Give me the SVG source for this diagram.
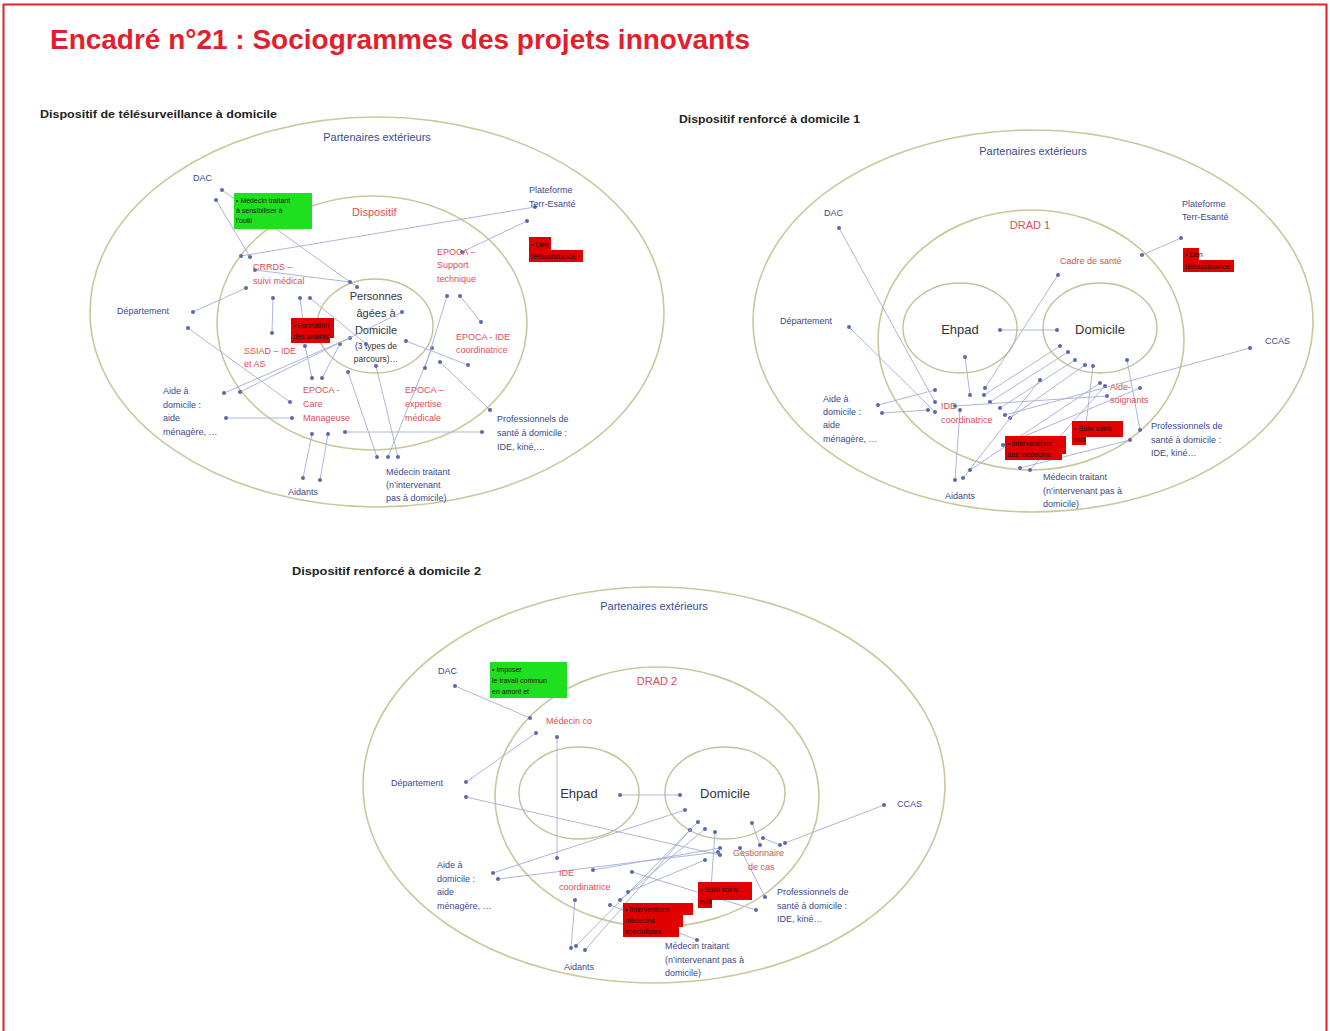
<svg xmlns="http://www.w3.org/2000/svg" width="1330" height="1031" viewBox="0 0 1330 1031">
<defs>
<marker id="dot" viewBox="0 0 6 6" refX="3" refY="3" markerWidth="4" markerHeight="4" markerUnits="userSpaceOnUse"><circle cx="3" cy="3" r="3" fill="#5a6aa8"/></marker>
<style>
.ring{fill:none;stroke:#c9c89c;stroke-width:1.6}
.ringi{fill:none;stroke:#c2c296;stroke-width:1.4}
.c line{stroke:#a3aed6;stroke-width:0.9;marker-start:url(#dot);marker-end:url(#dot)}
.t{font-family:"Liberation Sans",Arial,sans-serif;font-size:9px;fill:#3b4a8c}
.r{font-family:"Liberation Sans",Arial,sans-serif;font-size:9px;fill:#dc5055}
.h{font-family:"Liberation Sans",Arial,sans-serif;font-size:11px;font-weight:bold;fill:#222}
.p{font-family:"Liberation Sans",Arial,sans-serif;font-size:11px;fill:#3b4a8c;text-anchor:middle}
.big{font-family:"Liberation Sans",Arial,sans-serif;font-size:13px;fill:#333;text-anchor:middle}
.med{font-family:"Liberation Sans",Arial,sans-serif;font-size:11px;fill:#333;text-anchor:middle}
.sm{font-family:"Liberation Sans",Arial,sans-serif;font-size:8.5px;fill:#333;text-anchor:middle}
.lbl{font-family:"Liberation Sans",Arial,sans-serif;font-size:11px;fill:#dc5055}
.rb{fill:#e00000}
.gb{fill:#1fe01f}
.k{font-family:"Liberation Sans",Arial,sans-serif;font-size:7px;fill:#111}
</style>
</defs>
<rect x="0" y="0" width="1330" height="1031" fill="#fff"/>
<rect x="3.5" y="4.5" width="1323" height="1040" fill="none" stroke="#e31e2d" stroke-width="2"/>
<text x="50" y="49" font-family="Liberation Sans,Arial,sans-serif" font-size="28" font-weight="bold" fill="#e31e2d" textLength="700" lengthAdjust="spacingAndGlyphs">Encadré n°21 : Sociogrammes des projets innovants</text>

<!-- ===== Diagram 1 ===== -->
<g id="d1-title"><text class="h" x="40" y="118" textLength="237" lengthAdjust="spacingAndGlyphs">Dispositif de télésurveillance à domicile</text></g>
<g id="d1-partenaires"><ellipse class="ring" cx="377" cy="312" rx="287" ry="195"/><text class="p" x="377" y="141">Partenaires extérieurs</text></g>
<g id="d1-dispositif"><ellipse class="ring" cx="372" cy="323" rx="155" ry="127"/><text class="lbl" x="352" y="216">Dispositif</text></g>
<g id="d1-personnes"><ellipse class="ringi" cx="375" cy="326" rx="58" ry="47"/>
<text class="med" x="376" y="300">Personnes</text><text class="med" x="376" y="317">âgées à</text><text class="med" x="376" y="334">Domicile</text>
<text class="sm" x="376" y="349">(3 types de</text><text class="sm" x="376" y="362">parcours)…</text></g>

<g id="d1-connectors" class="c">
<line x1="216" y1="200" x2="250" y2="257"/>
<line x1="222" y1="190" x2="357" y2="287"/>
<line x1="241" y1="256" x2="535" y2="207"/>
<line x1="527" y1="221" x2="462" y2="252"/>
<line x1="193" y1="312" x2="246" y2="288"/>
<line x1="188" y1="328" x2="290" y2="402"/>
<line x1="224" y1="393" x2="350" y2="338"/>
<line x1="226" y1="418" x2="292" y2="418"/>
<line x1="273" y1="298" x2="272" y2="333"/>
<line x1="300" y1="298" x2="305" y2="335"/>
<line x1="310" y1="298" x2="366" y2="344"/>
<line x1="305" y1="346" x2="312" y2="378"/>
<line x1="322" y1="378" x2="340" y2="344"/>
<line x1="345" y1="432" x2="482" y2="432"/>
<line x1="303" y1="478" x2="312" y2="434"/>
<line x1="320" y1="480" x2="328" y2="434"/>
<line x1="377" y1="457" x2="348" y2="372"/>
<line x1="388" y1="457" x2="432" y2="348"/>
<line x1="398" y1="457" x2="376" y2="366"/>
<line x1="447" y1="296" x2="425" y2="368"/>
<line x1="460" y1="296" x2="481" y2="322"/>
<line x1="440" y1="362" x2="490" y2="410"/>
<line x1="406" y1="341" x2="468" y2="365"/>
<line x1="255" y1="270" x2="350" y2="282"/>
<line x1="240" y1="392" x2="402" y2="312"/>
</g>

<g id="d1-green"><rect class="gb" x="234" y="193" width="78" height="36"/><text class="k" x="236" y="203">• Médecin traitant</text><text class="k" x="236" y="213">à sensibiliser à</text><text class="k" x="236" y="223">l’outil</text></g>
<g id="d1-redbox1"><path class="rb" d="M529 237h22v13h32v12h-54z"/><text class="k" x="531" y="247">• Lien</text><text class="k" x="531" y="259">téléassistance</text></g>
<g id="d1-redbox2"><path class="rb" d="M291 318h43v20h-4v5h-39z"/><text class="k" x="293" y="328">• Formation</text><text class="k" x="293" y="339">des aidants</text></g>
<g id="d1-labels">
<text class="t" x="193" y="181">DAC</text>
<text class="t" x="529" y="193">Plateforme</text><text class="t" x="529" y="207">Terr-Esanté</text>
<text class="r" x="253" y="270">CRRDS –</text><text class="r" x="253" y="284">suivi médical</text>
<text class="r" x="437" y="255">EPOCA –</text><text class="r" x="437" y="268">Support</text><text class="r" x="437" y="282">technique</text>
<text class="r" x="456" y="340">EPOCA - IDE</text><text class="r" x="456" y="353">coordinatrice</text>
<text class="r" x="244" y="354">SSIAD – IDE</text><text class="r" x="244" y="367">et AS</text>
<text class="r" x="303" y="393">EPOCA -</text><text class="r" x="303" y="407">Care</text><text class="r" x="303" y="421">Manageuse</text>
<text class="r" x="405" y="393">EPOCA –</text><text class="r" x="405" y="407">expertise</text><text class="r" x="405" y="421">médicale</text>
<text class="t" x="117" y="314">Département</text>
<text class="t" x="163" y="394">Aide à</text><text class="t" x="163" y="408">domicile :</text><text class="t" x="163" y="421">aide</text><text class="t" x="163" y="435">ménagère, …</text>
<text class="t" x="288" y="495">Aidants</text>
<text class="t" x="386" y="475">Médecin traitant</text><text class="t" x="386" y="488">(n’intervenant</text><text class="t" x="386" y="501">pas à domicile)</text>
<text class="t" x="497" y="422">Professionnels de</text><text class="t" x="497" y="436">santé à domicile :</text><text class="t" x="497" y="450">IDE, kiné,…</text>
</g>

<!-- ===== Diagram 2 ===== -->
<g id="d2-title"><text class="h" x="679" y="123" textLength="181" lengthAdjust="spacingAndGlyphs">Dispositif renforcé à domicile 1</text></g>
<g id="d2-partenaires"><ellipse class="ring" cx="1033" cy="321" rx="280" ry="191"/><text class="p" x="1033" y="155">Partenaires extérieurs</text></g>
<g id="d2-drad"><ellipse class="ring" cx="1031" cy="340" rx="153" ry="130"/><text class="lbl" x="1030" y="229" text-anchor="middle">DRAD 1</text></g>
<g id="d2-ehpad"><ellipse class="ringi" cx="960" cy="328" rx="57" ry="45"/><text class="big" x="960" y="334">Ehpad</text></g>
<g id="d2-domicile"><ellipse class="ringi" cx="1100" cy="328" rx="57" ry="45"/><text class="big" x="1100" y="334">Domicile</text></g>

<g id="d2-connectors" class="c">
<line x1="839" y1="228" x2="935" y2="402"/>
<line x1="849" y1="327" x2="935" y2="412"/>
<line x1="1057" y1="330" x2="1000" y2="330"/>
<line x1="1058" y1="275" x2="985" y2="388"/>
<line x1="1142" y1="255" x2="1181" y2="238"/>
<line x1="1250" y1="348" x2="1005" y2="415"/>
<line x1="878" y1="405" x2="935" y2="390"/>
<line x1="882" y1="413" x2="928" y2="410"/>
<line x1="965" y1="357" x2="970" y2="395"/>
<line x1="984" y1="395" x2="1060" y2="346"/>
<line x1="990" y1="402" x2="1068" y2="352"/>
<line x1="1000" y1="408" x2="1075" y2="360"/>
<line x1="1010" y1="418" x2="1085" y2="365"/>
<line x1="955" y1="480" x2="960" y2="410"/>
<line x1="963" y1="478" x2="1040" y2="380"/>
<line x1="970" y1="470" x2="1100" y2="383"/>
<line x1="1093" y1="366" x2="1086" y2="424"/>
<line x1="1127" y1="360" x2="1140" y2="430"/>
<line x1="1130" y1="440" x2="1020" y2="468"/>
<line x1="1030" y1="470" x2="1105" y2="386"/>
<line x1="1107" y1="396" x2="955" y2="406"/>
<line x1="1140" y1="388" x2="1003" y2="445"/>
</g>

<g id="d2-redbox1"><path class="rb" d="M1183 248h16v12h35v12h-51z"/><text class="k" x="1185" y="257">• Lien</text><text class="k" x="1185" y="269">téléassistance</text></g>
<g id="d2-redbox2"><path class="rb" d="M1005 436h61v18h-4v6h-57z"/><text class="k" x="1007" y="446">• Interventions</text><text class="k" x="1007" y="457">des médecins</text></g>
<g id="d2-redbox3"><path class="rb" d="M1072 421h51v16h-37v8h-14z"/><text class="k" x="1074" y="431">• Suivi soins</text><text class="k" x="1074" y="442">nuit</text></g>
<g id="d2-labels">
<text class="t" x="824" y="216">DAC</text>
<text class="t" x="1182" y="207">Plateforme</text><text class="t" x="1182" y="220">Terr-Esanté</text>
<text class="r" x="1060" y="264">Cadre de santé</text>
<text class="t" x="780" y="324">Département</text>
<text class="t" x="1265" y="344">CCAS</text>
<text class="t" x="823" y="402">Aide à</text><text class="t" x="823" y="415">domicile :</text><text class="t" x="823" y="428">aide</text><text class="t" x="823" y="442">ménagère, …</text>
<text class="r" x="941" y="409">IDE</text><text class="r" x="941" y="423">coordinatrice</text>
<text class="r" x="1110" y="390">Aide-</text><text class="r" x="1110" y="403">soignants</text>
<text class="t" x="1151" y="429">Professionnels de</text><text class="t" x="1151" y="443">santé à domicile :</text><text class="t" x="1151" y="456">IDE, kiné…</text>
<text class="t" x="945" y="499">Aidants</text>
<text class="t" x="1043" y="480">Médecin traitant</text><text class="t" x="1043" y="494">(n’intervenant pas à</text><text class="t" x="1043" y="507">domicile)</text>
</g>

<!-- ===== Diagram 3 ===== -->
<g id="d3-title"><text class="h" x="292" y="575" textLength="189" lengthAdjust="spacingAndGlyphs">Dispositif renforcé à domicile 2</text></g>
<g id="d3-partenaires"><ellipse class="ring" cx="654" cy="785" rx="291" ry="198"/><text class="p" x="654" y="610">Partenaires extérieurs</text></g>
<g id="d3-drad"><ellipse class="ring" cx="657" cy="797" rx="162" ry="130"/><text class="lbl" x="657" y="685" text-anchor="middle">DRAD 2</text></g>
<g id="d3-ehpad"><ellipse class="ringi" cx="579" cy="793" rx="60" ry="46"/><text class="big" x="579" y="798">Ehpad</text></g>
<g id="d3-domicile"><ellipse class="ringi" cx="725" cy="793" rx="60" ry="46"/><text class="big" x="725" y="798">Domicile</text></g>

<g id="d3-connectors" class="c">
<line x1="455" y1="686" x2="530" y2="718"/>
<line x1="557" y1="737" x2="557" y2="858"/>
<line x1="536" y1="733" x2="466" y2="782"/>
<line x1="466" y1="797" x2="720" y2="855"/>
<line x1="680" y1="795" x2="620" y2="795"/>
<line x1="884" y1="805" x2="785" y2="843"/>
<line x1="493" y1="873" x2="685" y2="810"/>
<line x1="498" y1="879" x2="718" y2="852"/>
<line x1="593" y1="870" x2="720" y2="848"/>
<line x1="571" y1="948" x2="575" y2="900"/>
<line x1="585" y1="950" x2="690" y2="830"/>
<line x1="576" y1="946" x2="698" y2="822"/>
<line x1="620" y1="900" x2="705" y2="829"/>
<line x1="715" y1="832" x2="710" y2="902"/>
<line x1="765" y1="897" x2="740" y2="848"/>
<line x1="756" y1="910" x2="632" y2="872"/>
<line x1="752" y1="823" x2="760" y2="845"/>
<line x1="763" y1="838" x2="780" y2="845"/>
<line x1="628" y1="892" x2="705" y2="860"/>
<line x1="697" y1="940" x2="610" y2="905"/>
</g>

<g id="d3-green"><rect class="gb" x="490" y="662" width="77" height="36"/><text class="k" x="492" y="672">• Imposer</text><text class="k" x="492" y="683">le travail commun</text><text class="k" x="492" y="694">en amont et</text></g>
<g id="d3-redbox1"><path class="rb" d="M698 882h54v18h-40v8h-14z"/><text class="k" x="700" y="892">• Suivi soins</text><text class="k" x="700" y="904">nuit</text></g>
<g id="d3-redbox2"><path class="rb" d="M623 903h70v12h-10v12h-4v10h-56z"/><text class="k" x="625" y="912">• Interventions</text><text class="k" x="625" y="923">médecins</text><text class="k" x="625" y="934">spécialistes</text></g>
<g id="d3-labels">
<text class="t" x="438" y="674">DAC</text>
<text class="r" x="546" y="724">Médecin co</text>
<text class="t" x="391" y="786">Département</text>
<text class="t" x="897" y="807">CCAS</text>
<text class="r" x="733" y="856">Gestionnaire</text><text class="r" x="748" y="870">de cas</text>
<text class="t" x="437" y="868">Aide à</text><text class="t" x="437" y="882">domicile :</text><text class="t" x="437" y="895">aide</text><text class="t" x="437" y="909">ménagère, …</text>
<text class="r" x="559" y="876">IDE</text><text class="r" x="559" y="890">coordinatrice</text>
<text class="t" x="777" y="895">Professionnels de</text><text class="t" x="777" y="909">santé à domicile :</text><text class="t" x="777" y="922">IDE, kiné…</text>
<text class="t" x="564" y="970">Aidants</text>
<text class="t" x="665" y="949">Médecin traitant</text><text class="t" x="665" y="963">(n’intervenant pas à</text><text class="t" x="665" y="976">domicile)</text>
</g>
</svg>
